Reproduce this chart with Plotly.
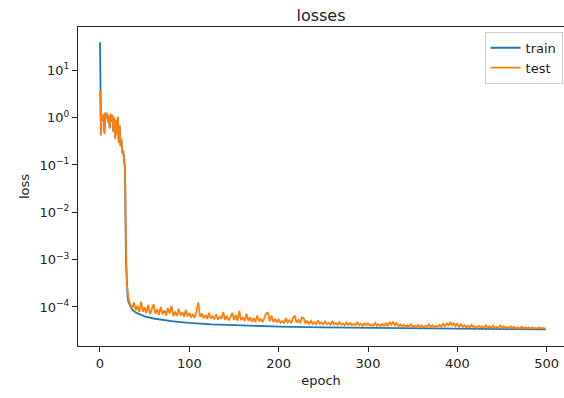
import plotly.graph_objects as go

# ---- data ----
train_epochs = [0, 1, 2, 3, 4, 5, 6, 7, 8, 9, 10, 11, 12, 13, 14, 15, 16, 17, 18, 19, 20,
                21, 22, 23, 24, 25, 26, 27, 28, 29, 30, 31, 32, 34, 36, 40, 45, 50, 60, 70,
                80, 90, 100, 125, 150, 175, 200, 250, 300, 350, 400, 450, 499]
train_loss = [39.0, 1.0, 1.0, 0.85, 1.1, 0.5, 1.2, 0.95, 1.15, 0.8, 1.0, 0.6, 1.1, 0.85, 1.05,
              0.5, 0.9, 0.38, 0.85, 0.45, 0.95, 0.3, 0.65, 0.25, 0.33, 0.18, 0.19, 0.11, 0.08,
              1.0e-3, 2.5e-4, 1.6e-4, 1.25e-4, 1.0e-4, 8.8e-5, 7.6e-5, 6.8e-5, 6.3e-5, 5.7e-5,
              5.3e-5, 5.0e-5, 4.8e-5, 4.6e-5, 4.3e-5, 4.1e-5, 3.95e-5, 3.85e-5, 3.7e-5, 3.6e-5,
              3.52e-5, 3.45e-5, 3.4e-5, 3.35e-5]

test_epochs = list(range(0, 30)) + list(range(30, 499, 2)) + [499]
test_loss = [
    3.8, 0.42, 1.1, 0.9, 1.2, 0.45, 1.3, 1.0, 1.25, 0.8,
    1.1, 0.6, 1.2, 0.9, 1.15, 0.5, 1.0, 0.35, 0.9, 0.45,
    1.05, 0.3, 0.7, 0.25, 0.35, 0.18, 0.2, 0.12, 0.09, 3.0e-3,
    # 30 .. 98 step 2
    3.0e-4, 1.5e-4, 1.1e-4, 9.5e-5, 1.25e-4, 8.5e-5, 1.05e-4, 7.8e-5, 1.3e-4, 8.0e-5,
    9.8e-5, 7.4e-5, 1.1e-4, 7.0e-5, 8.8e-5, 1.15e-4, 7.2e-5, 9.0e-5, 6.8e-5, 1.0e-4,
    7.0e-5, 8.5e-5, 6.6e-5, 9.5e-5, 7.3e-5, 1.05e-4, 6.5e-5, 8.0e-5, 6.4e-5, 9.2e-5,
    6.6e-5, 7.8e-5, 6.2e-5, 8.6e-5, 6.3e-5,
    # 100 .. 198
    7.5e-5, 6.0e-5, 7.0e-5, 5.9e-5, 8.0e-5, 1.25e-4, 6.2e-5, 7.2e-5, 5.8e-5, 6.8e-5,
    5.6e-5, 7.5e-5, 5.7e-5, 6.4e-5, 5.5e-5, 7.0e-5, 5.4e-5, 6.2e-5, 5.6e-5, 7.8e-5,
    5.3e-5, 6.5e-5, 5.2e-5, 6.0e-5, 7.5e-5, 5.3e-5, 6.8e-5, 5.1e-5, 8.2e-5, 5.2e-5,
    6.1e-5, 5.0e-5, 7.2e-5, 5.1e-5, 6.0e-5, 4.9e-5, 5.8e-5, 4.8e-5, 6.6e-5, 5.0e-5,
    5.5e-5, 4.8e-5, 6.0e-5, 7.4e-5, 7.6e-5, 5.0e-5, 6.5e-5, 4.8e-5, 5.6e-5, 4.7e-5,
    # 200 .. 298
    5.4e-5, 4.6e-5, 5.0e-5, 4.6e-5, 5.8e-5, 4.7e-5, 5.2e-5, 4.5e-5, 6.0e-5, 6.4e-5,
    4.7e-5, 5.3e-5, 4.5e-5, 6.0e-5, 5.8e-5, 4.6e-5, 5.0e-5, 4.4e-5, 5.1e-5, 4.4e-5,
    4.8e-5, 4.3e-5, 5.2e-5, 4.4e-5, 4.7e-5, 4.3e-5, 4.9e-5, 4.3e-5, 4.6e-5, 4.2e-5,
    5.0e-5, 4.3e-5, 4.6e-5, 4.2e-5, 4.8e-5, 4.2e-5, 4.5e-5, 4.1e-5, 4.7e-5, 4.2e-5,
    4.6e-5, 4.1e-5, 4.4e-5, 4.1e-5, 4.8e-5, 4.1e-5, 4.4e-5, 4.0e-5, 4.5e-5, 4.1e-5,
    # 300 .. 398
    4.5e-5, 4.0e-5, 4.3e-5, 4.0e-5, 4.6e-5, 4.0e-5, 4.3e-5, 3.9e-5, 4.4e-5, 4.0e-5,
    4.5e-5, 4.0e-5, 4.8e-5, 4.2e-5, 4.9e-5, 4.1e-5, 4.6e-5, 3.9e-5, 4.3e-5, 3.9e-5,
    4.2e-5, 3.8e-5, 4.1e-5, 3.8e-5, 4.3e-5, 3.8e-5, 4.0e-5, 3.8e-5, 4.2e-5, 3.8e-5,
    4.1e-5, 3.7e-5, 4.0e-5, 3.8e-5, 4.3e-5, 3.8e-5, 4.1e-5, 3.7e-5, 4.0e-5, 3.8e-5,
    4.2e-5, 3.8e-5, 4.4e-5, 3.9e-5, 4.6e-5, 4.0e-5, 4.8e-5, 4.1e-5, 4.5e-5, 3.9e-5,
    # 400 .. 498
    4.4e-5, 3.8e-5, 4.3e-5, 3.8e-5, 4.1e-5, 3.7e-5, 4.0e-5, 3.7e-5, 4.2e-5, 3.7e-5,
    3.9e-5, 3.6e-5, 4.0e-5, 3.7e-5, 3.9e-5, 3.6e-5, 4.1e-5, 3.6e-5, 3.9e-5, 3.6e-5,
    4.0e-5, 3.6e-5, 3.8e-5, 3.6e-5, 4.1e-5, 3.6e-5, 3.9e-5, 3.6e-5, 3.8e-5, 3.5e-5,
    3.9e-5, 3.6e-5, 3.8e-5, 3.5e-5, 3.7e-5, 3.5e-5, 3.8e-5, 3.5e-5, 3.7e-5, 3.5e-5,
    3.7e-5, 3.5e-5, 3.7e-5, 3.5e-5, 3.6e-5, 3.5e-5, 3.7e-5, 3.5e-5, 3.6e-5, 3.5e-5,
    # 499
    3.5e-5,
]

x_tick_vals = [0, 100, 200, 300, 400, 500]
y_tick_vals = [1e-4, 1e-3, 1e-2, 1e-1, 1e0, 1e1]
y_tick_text = ["10<sup>\u22124</sup>", "10<sup>\u22123</sup>", "10<sup>\u22122</sup>",
               "10<sup>\u22121</sup>", "10<sup>0</sup>", "10<sup>1</sup>"]

FONT = "DejaVu Sans"

fig = go.Figure()
fig.add_trace(go.Scatter(x=train_epochs, y=train_loss, mode="lines", name="train",
                         line=dict(color="#1f77b4", width=1.8)))
fig.add_trace(go.Scatter(x=test_epochs, y=test_loss, mode="lines", name="test",
                         line=dict(color="#ff7f0e", width=1.8)))

fig.update_layout(
    width=564, height=398,
    margin=dict(l=78, r=0, t=27, b=52),
    paper_bgcolor="white", plot_bgcolor="white",
    font=dict(family=FONT, size=13, color="#222"),
    title=dict(text="losses", x=0.5, xanchor="center", xref="paper",
               y=1, yref="paper", yanchor="bottom", pad=dict(b=6),
               font=dict(family=FONT, size=16, color="#222")),
    legend=dict(x=0.997, xanchor="right", y=0.985, yanchor="top",
                bgcolor="white", bordercolor="#d0d0d0", borderwidth=1,
                font=dict(family=FONT, size=13, color="#222")),
    showlegend=True,
)
fig.update_xaxes(
    range=[-24.62, 519.4], tickvals=x_tick_vals,
    showgrid=False, zeroline=False,
    showline=True, linecolor="#222", linewidth=1, mirror=True,
    ticks="outside", ticklen=5, tickcolor="#222",
    title=dict(text="epoch", font=dict(family=FONT, size=13, color="#222"), standoff=6),
)
fig.update_yaxes(
    type="log", range=[-4.825, 1.914],
    tickvals=y_tick_vals, ticktext=y_tick_text,
    showgrid=False, zeroline=False,
    showline=True, linecolor="#222", linewidth=1,
    ticks="outside", ticklen=5, tickcolor="#222",
    title=dict(text="loss", font=dict(family=FONT, size=13, color="#222"), standoff=6),
)

fig.write_html("out.html")
